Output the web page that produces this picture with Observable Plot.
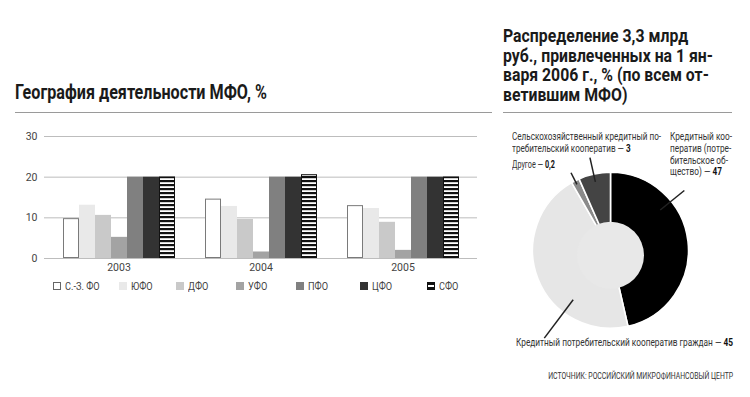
<!DOCTYPE html>
<html><head><meta charset="utf-8">
<script src="https://cdn.jsdelivr.net/npm/d3@7"></script>
<script src="https://cdn.jsdelivr.net/npm/@observablehq/plot@0.6"></script>
<style>
body{margin:0;background:#fff;width:750px;height:397px;position:relative;overflow:hidden;font-family:Roboto,"Liberation Sans",sans-serif;color:#333}
.abs{position:absolute;white-space:nowrap}
.title{font-weight:bold;color:#1a1a1a}
.rule{position:absolute;height:1px;background:#9a9a9a}
.lg{position:absolute;top:279px;font-size:11.5px;color:#444;line-height:14px}
.sw{display:inline-block;width:8px;height:8px;vertical-align:-0px;margin-right:4px;box-sizing:border-box}
.lt{display:inline-block;transform-origin:left center}
.pl{font-size:10px;line-height:11.8px;color:#333}
.pl b{color:#111}
</style></head><body>
<div class="abs title fit" data-w="252" style="left:15px;top:81px;font-size:19.5px">География деятельности МФО, %</div>
<div class="rule" style="left:15px;top:112px;width:477px"></div>
<div class="abs title fit" data-w="210" style="left:503px;top:26px;font-size:19px;line-height:19.5px">Распределение 3,3 млрд<br>руб., привлеченных на 1 ян-<br>варя 2006 г., % (по всем от-<br>ветившим МФО)</div>
<div class="rule" style="left:503px;top:112px;width:229px"></div>
<div id="grid" class="abs" style="left:0;top:120px"></div>
<div id="bars" class="abs" style="left:0;top:120px"></div>
<div id="legend"></div>
<div id="pie" class="abs" style="left:500px;top:120px"></div>
<div id="pielabels"></div>
<div class="abs fit" data-w="185" data-right="1" style="right:17px;top:371px;font-size:9px;color:#333">ИСТОЧНИК: РОССИЙСКИЙ МИКРОФИНАНСОВЫЙ ЦЕНТР</div>
<script>
// ---- data ----
const years = ["2003", "2004", "2005"];
const regions = ["С.-З. ФО", "ЮФО", "ДФО", "УФО", "ПФО", "ЦФО", "СФО"];
const v2003 = [9.8, 13.1, 10.6, 5.2, 20, 20, 20];
const v2004 = [14.6, 12.8, 9.6, 1.6, 20, 20, 20.6];
const v2005 = [13.0, 12.3, 8.9, 2.0, 20, 20, 20];
const yTicks = [0, 10, 20, 30];

const pieNames = [
  "Кредитный кооператив (потребительское общество)",
  "Кредитный потребительский кооператив граждан",
  "Другое",
  "Сельскохозяйственный кредитный потребительский кооператив"
];
const pieValues = ["47", "45", "0,2", "3"];         // as labelled
const pieShares = [46.4, 45.3, 1.7, 6.6];           // slice sizes as drawn

// ---- styles ----
const regionFills = ["#ffffff", "#e9e9e9", "#c9c9c9", "#a3a3a3", "#808080", "#333333", "url(#stripes)"];
const pieFills = ["#000000", "#e6e6e6", "#8a8a8a", "#444444"];
const font = 'Roboto,"Liberation Sans",sans-serif';

const rows = [];
[v2003, v2004, v2005].forEach((vals, i) => vals.forEach((v, j) => rows.push({year: years[i], region: regions[j], value: v})));

function stripesDefs() {
  const defs = d3.create("svg:defs");
  const p = defs.append("pattern").attr("id", "stripes").attr("patternUnits", "userSpaceOnUse")
    .attr("width", 6).attr("height", 4);
  p.append("rect").attr("width", 6).attr("height", 4).attr("fill", "#fff");
  p.append("rect").attr("width", 6).attr("height", 2.2).attr("fill", "#111");
  return defs.node();
}

const frame = {width: 500, height: 160, marginTop: 16, marginBottom: 22, marginLeft: 44, marginRight: 23};

// grid underlay (full width, not faceted)
const grid = Plot.plot({
  ...frame,
  style: {fontFamily: font, fontSize: "10.5px", color: "#444", background: "transparent"},
  y: {domain: [0, 30], ticks: yTicks, tickSize: 0, tickPadding: 7, label: null},
  marks: [Plot.ruleY(yTicks, {stroke: "#bdbdbd", strokeWidth: 1})]
});
document.getElementById("grid").appendChild(grid);

const bars = Plot.plot({
  ...frame,
  style: {fontFamily: font, fontSize: "10.5px", color: "#444", background: "transparent"},
  fx: {domain: years, paddingInner: 0.19, paddingOuter: 0.11, axis: "bottom", tickSize: 0, tickPadding: 5, label: null},
  x: {domain: regions, padding: 0, axis: null},
  y: {domain: [0, 30], axis: null},
  color: {domain: regions, range: regionFills},
  marks: [
    stripesDefs,
    Plot.barY(rows, {fx: "year", x: "region", y: "value", fill: "region"}),
    Plot.barY(rows.filter(d => d.region === regions[0]), {fx: "year", x: "region", y: "value", fill: "none", stroke: "#7a7a7a", strokeWidth: 1, inset: 0.5}),
    Plot.barY(rows.filter(d => d.region === regions[6]), {fx: "year", x: "region", y: "value", fill: "none", stroke: "#111", strokeWidth: 1, inset: 0.5})
  ]
});
document.getElementById("bars").appendChild(bars);

// legend
const legendX = [53, 119, 176, 236, 296, 360, 427];
const swatchCss = [
  "background:#fff;border:1px solid #666",
  "background:#e9e9e9",
  "background:#c9c9c9",
  "background:#a3a3a3",
  "background:#808080",
  "background:#333",
  "background:repeating-linear-gradient(#111 0 2px,#fff 2px 4px);border:1px solid #111"
];
const lg = document.getElementById("legend");
regions.forEach((r, i) => {
  const d = document.createElement("div");
  d.className = "lg";
  d.style.left = legendX[i] + "px";
  d.innerHTML = `<span class="sw" style="${swatchCss[i]}"></span><span class="lt" style="transform:scaleX(0.8)">${r}</span>`;
  lg.appendChild(d);
});

// pie
const cx = 110.5, cy = 130.3, R = 78, holeR = 33.5, holeDy = 5;
const leaders = [
  {a: 51, r1: 64, r2: 95},
  {a: 217, r1: 62, r2: 110},
  {a: 333, r1: 74, r2: 87},
  {a: 347.5, r1: 70, r2: 95}
];
const pieData = pieNames.map((n, i) => ({name: n, value: pieValues[i], share: pieShares[i], fill: pieFills[i]}));
function pieMark() {
  const g = d3.create("svg:g").attr("transform", `translate(${cx},${cy})`);
  const arcs = d3.pie().sort(null).value(d => d.share)(pieData);
  const arc = d3.arc().innerRadius(0).outerRadius(R);
  g.selectAll("path.s").data(arcs).join("path")
    .attr("d", arc).attr("fill", d => d.data.fill).attr("stroke", "#fff").attr("stroke-width", 1.6);
  g.append("circle").attr("cx", 0).attr("cy", holeDy).attr("r", holeR).attr("fill", "#e8e8e8");
  g.selectAll("line").data(leaders).join("line")
    .attr("x1", d => d.r1 * Math.sin(d.a * Math.PI / 180))
    .attr("y1", d => -d.r1 * Math.cos(d.a * Math.PI / 180))
    .attr("x2", d => d.r2 * Math.sin(d.a * Math.PI / 180))
    .attr("y2", d => -d.r2 * Math.cos(d.a * Math.PI / 180))
    .attr("stroke", "#222").attr("stroke-width", 1.5);
  return g.node();
}
const pie = Plot.plot({
  width: 250, height: 277, margin: 0,
  style: {background: "transparent"},
  x: {axis: null}, y: {axis: null},
  marks: [pieMark]
});
document.getElementById("pie").appendChild(pie);

// pie labels
const pl = document.getElementById("pielabels");
function addLabel(left, top, w, html) {
  const d = document.createElement("div");
  d.className = "abs pl fit";
  d.dataset.w = w;
  d.style.left = left + "px"; d.style.top = top + "px";
  d.innerHTML = html;
  pl.appendChild(d);
}
addLabel(670, 131, 62, `Кредитный коо-<br>ператив (потре-<br>бительское об-<br>щество) — <b>${pieValues[0]}</b>`);
addLabel(516, 337, 217, `Кредитный потребительский кооператив граждан — <b>${pieValues[1]}</b>`);
addLabel(512, 159, 43, `Другое — <b>${pieValues[2]}</b>`);
addLabel(512, 131, 149, `Сельскохозяйственный кредитный по-<br>требительский кооператив — <b>${pieValues[3]}</b>`);

// condense texts to the reference's narrow typeface widths
document.querySelectorAll(".fit").forEach(el => {
  const w = el.getBoundingClientRect().width;
  const s = +el.dataset.w / w;
  el.style.transformOrigin = el.dataset.right ? "right top" : "left top";
  el.style.transform = `scaleX(${s})`;
});
</script>
</body></html>
